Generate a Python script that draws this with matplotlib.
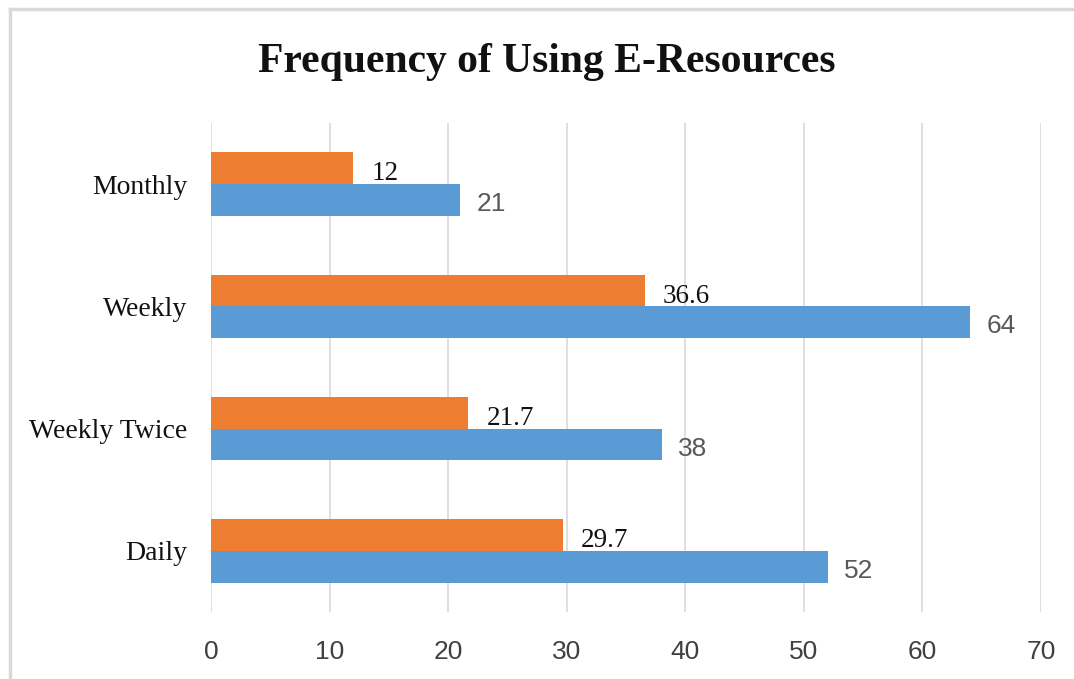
import matplotlib
matplotlib.use("Agg")
import matplotlib.pyplot as plt
from matplotlib.lines import Line2D
import numpy as np

categories = ["Daily", "Weekly Twice", "Weekly", "Monthly"]
blue_values = [52, 38, 64, 21]
orange_values = [29.7, 21.7, 36.6, 12]
blue_labels = ["52", "38", "64", "21"]
orange_labels = ["29.7", "21.7", "36.6", "12"]
xticks = [0, 10, 20, 30, 40, 50, 60, 70]

BLUE = "#5B9BD5"
ORANGE = "#ED7D31"
SANS = "Liberation Sans"

fig = plt.figure(figsize=(10.74, 6.79), dpi=100)
ax = fig.add_axes([0.1965, 0.0987, 0.7728, 0.7202])

y = np.arange(len(categories))
h = 0.26
ax.barh(y - h / 2, blue_values, height=h, color=BLUE, zorder=3)
ax.barh(y + h / 2, orange_values, height=h, color=ORANGE, zorder=3)

for yi, v, lab in zip(y, blue_values, blue_labels):
    ax.annotate(lab, (v, yi - h / 2), xytext=(12, -3), textcoords="offset points",
                va="center", ha="left", fontsize=19, color="#595959",
                family=SANS)
for yi, v, lab in zip(y, orange_values, orange_labels):
    ax.annotate(lab, (v, yi + h / 2), xytext=(13, -4), textcoords="offset points",
                va="center", ha="left", fontsize=19.5, color="#111111",
                family="Liberation Serif")

ax.set_xlim(0, 70)
ax.set_ylim(-0.5, 3.5)
ax.set_xticks(xticks)
ax.set_xticklabels([str(t) for t in xticks], fontsize=19, color="#404040",
                   family=SANS)
ax.set_yticks(y)
ax.set_yticklabels(categories, fontsize=20, family="Liberation Serif", color="#111111")
ax.tick_params(axis="both", length=0)
ax.tick_params(axis="x", pad=20)
ax.tick_params(axis="y", pad=17)
ax.xaxis.grid(True, color="#D9D9D9", linewidth=1.2, zorder=0)
ax.set_axisbelow(True)
for s in ax.spines.values():
    s.set_visible(False)

fig.text(0.5095, 0.909, "Frequency of Using E-Resources", ha="center", va="center",
         fontsize=30, fontweight="bold", family="Liberation Serif", color="#111111")

fig.lines.append(Line2D([10 / 1074, 1.0], [1 - 9 / 679, 1 - 9 / 679],
                        transform=fig.transFigure, color="#D9D9D9", linewidth=2.5))
fig.lines.append(Line2D([10 / 1074, 10 / 1074], [0.0, 1 - 9 / 679],
                        transform=fig.transFigure, color="#D9D9D9", linewidth=2.5))

fig.savefig("out.png", dpi=100)
